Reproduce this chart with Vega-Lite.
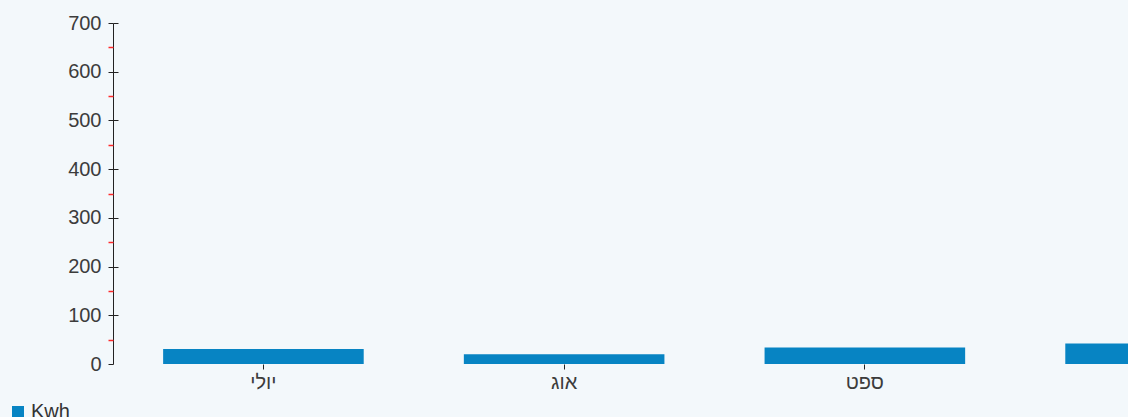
{
  "$schema": "https://vega.github.io/schema/vega-lite/v6.json",
  "width": 902,
  "height": 341,
  "autosize": "none",
  "padding": {"left": 113, "top": 23, "right": 113, "bottom": 53},
  "background": "#f3f8fb",
  "config": {
    "view": {"stroke": null},
    "font": "Liberation Sans",
    "axis": {"labelFont": "Liberation Sans", "labelFontSize": 20, "labelColor": "#3c3c3c", "grid": false, "title": null, "domainColor": "#222222", "tickColor": "#222222"}
  },
  "data": {
    "values": [
      {"month": "יולי", "kwh": 31, "series": "Kwh"},
      {"month": "אוג", "kwh": 20, "series": "Kwh"},
      {"month": "ספט", "kwh": 34, "series": "Kwh"},
      {"month": "אוק", "kwh": 42, "series": "Kwh"}
    ]
  },
  "encoding": {
    "x": {
      "field": "month", "type": "nominal", "sort": null,
      "scale": {"domain": ["יולי", "אוג", "ספט", "אוק"], "range": [0, 1203], "paddingInner": 0.333, "paddingOuter": 0.1667},
      "axis": {"values": ["יולי", "אוג", "ספט"], "domain": false, "tickSize": 5, "labelPadding": 3, "labelAngle": 0}
    }
  },
  "layer": [
    {
      "mark": {"type": "bar", "color": "#0784c3"},
      "encoding": {
        "y": {
          "field": "kwh", "type": "quantitative",
          "scale": {"domain": [0, 700], "nice": false},
          "axis": {"orient": "left", "values": [0, 100, 200, 300, 400, 500, 600, 700], "tickSize": 5, "labelPadding": 7, "domainColor": "#222222"}
        },
        "color": {
          "field": "series", "type": "nominal",
          "scale": {"range": ["#0784c3"]},
          "legend": {"title": null, "orient": "none", "legendX": -105, "legendY": 379, "symbolType": "square", "symbolSize": 144, "symbolStrokeWidth": 0, "labelFontSize": 20, "labelFont": "Liberation Sans", "labelColor": "#333333", "labelOffset": 3}
        }
      }
    },
    {
      "mark": {"type": "rule", "color": "#222222", "strokeWidth": 1},
      "encoding": {
        "y": {
          "datum": 0, "type": "quantitative",
          "axis": {"orient": "left", "offset": -5, "values": [100, 200, 300, 400, 500, 600, 700], "tickSize": 5, "labels": false, "domain": false}
        }
      }
    },
    {
      "mark": {"type": "rule", "color": "#222222", "strokeWidth": 1},
      "encoding": {
        "y": {
          "datum": 0, "type": "quantitative",
          "axis": {"orient": "left", "values": [50, 150, 250, 350, 450, 550, 650], "tickSize": 5, "tickWidth": 1.5, "labels": false, "domain": false, "tickColor": "#ff2a2a"}
        }
      }
    }
  ],
  "resolve": {"axis": {"y": "independent"}}
}
